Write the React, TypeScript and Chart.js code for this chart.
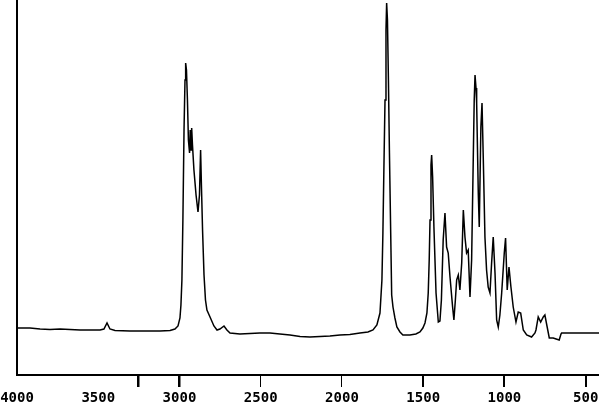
import React, { useEffect, useRef } from "react";
import { Chart, registerables } from "chart.js";

Chart.register(...registerables);

// Wavenumbers (cm-1)
const wavenumbers = [
  4000, 3920, 3858, 3797, 3735, 3674, 3612, 3551, 3489, 3465, 3446, 3428, 3397, 3305, 3212, 3120, 3058, 3028, 3009, 2997,
  2991, 2985, 2979, 2972, 2966, 2962, 2957, 2951, 2945, 2938, 2934, 2929, 2925, 2920, 2911, 2898, 2886, 2877, 2870, 2865,
  2858, 2849, 2840, 2831, 2812, 2788, 2769, 2751, 2726, 2708, 2689, 2628, 2566, 2505, 2443, 2382, 2320, 2258, 2197, 2135,
  2074, 2012, 1951, 1889, 1840, 1809, 1785, 1766, 1754, 1748, 1742, 1735, 1729, 1725, 1720, 1714, 1708, 1700, 1694, 1686,
  1674, 1662, 1643, 1625, 1582, 1545, 1520, 1502, 1489, 1477, 1469, 1463, 1458, 1452, 1448, 1442, 1434, 1421, 1407, 1397,
  1388, 1377, 1366, 1356, 1346, 1335, 1319, 1311, 1302, 1294, 1284, 1274, 1263, 1253, 1243, 1233, 1223, 1212, 1202, 1192,
  1186, 1181, 1175, 1171, 1161, 1155, 1145, 1138, 1130, 1120, 1110, 1100, 1089, 1079, 1069, 1058, 1048, 1038, 1028, 1017,
  1001, 993, 983, 972, 960, 946, 929, 915, 900, 884, 863, 833, 812, 806, 792, 777, 761, 751, 737, 724,
  700, 663, 652, 648, 418,
];

// Absorption signal (relative units, 0 = axis line, 100 = top of plot)
const absorption = [
  12.53, 12.53, 12.27, 12.13, 12.27, 12.13, 12.0, 12.0, 12.0, 12.27, 13.87, 12.27, 11.87, 11.73, 11.73, 11.73, 11.87, 12.27, 13.07, 15.2,
  18.67, 25.33, 41.33, 65.33, 78.67, 83.2, 81.33, 73.33, 62.67, 59.2, 65.33, 60.0, 65.87, 61.33, 54.67, 48.0, 43.47, 48.0, 60.0, 50.67,
  38.67, 26.67, 20.0, 17.33, 15.47, 13.07, 12.0, 12.27, 13.07, 12.0, 11.2, 10.93, 11.07, 11.2, 11.2, 10.93, 10.67, 10.27, 10.13, 10.27,
  10.4, 10.67, 10.8, 11.2, 11.47, 12.0, 13.33, 16.53, 25.33, 37.87, 54.67, 73.33, 92.0, 99.2, 94.67, 78.67, 60.0, 37.87, 21.33, 18.13,
  15.2, 12.8, 11.47, 10.67, 10.67, 10.93, 11.47, 12.53, 13.87, 16.53, 21.87, 30.67, 41.33, 56.0, 58.67, 52.8, 39.47, 21.87, 14.13, 14.4,
  20.0, 36.0, 43.2, 34.13, 32.53, 26.13, 18.13, 14.67, 20.0, 25.33, 26.67, 22.67, 29.87, 44.0, 36.8, 32.53, 33.33, 20.8, 30.67, 57.33,
  73.33, 80.0, 76.53, 72.53, 48.53, 39.47, 66.13, 72.53, 57.33, 36.8, 28.0, 23.47, 21.87, 29.87, 36.8, 27.2, 14.67, 12.8, 16.0, 21.87,
  32.53, 36.53, 22.67, 28.8, 23.47, 18.13, 14.13, 16.8, 16.53, 12.0, 10.67, 10.13, 11.2, 12.0, 15.47, 14.13, 15.47, 16.0, 12.8, 9.87,
  9.87, 9.33, 10.93, 11.2, 11.2,
];

// Axis tick values and labels
const tickValues = [4000, 3500, 3255, 3000, 2500, 2000, 1500, 1000, 500];
const tickLabels = ["4000", "3500", "", "3000", "2500", "2000", "1500", "1000", "500"];
const hiddenTickMarks = [4000, 3500];
const boldTickMarks = [3255, 3000];
const thinTickMarks = [2500, 2000];

export default function App() {
  const canvasRef = useRef<HTMLCanvasElement | null>(null);

  useEffect(() => {
    document.body.style.margin = "0";
    const canvas = canvasRef.current;
    if (!canvas) return;
    const points = wavenumbers.map((w, i) => ({ x: w, y: absorption[i] }));
    const chart = new Chart(canvas, {
      type: "line",
      data: {
        datasets: [
          {
            data: points,
            borderColor: "#000",
            borderWidth: 1.5,
            pointRadius: 0,
            fill: false,
            tension: 0,
          },
        ],
      },
      options: {
        responsive: false,
        animation: false,
        layout: { padding: 0 },
        plugins: { legend: { display: false }, tooltip: { enabled: false } },
        scales: {
          x: {
            type: "linear",
            reverse: true,
            min: 418,
            max: 4000,
            afterBuildTicks: (scale: any) => {
              scale.ticks = tickValues.map((v) => ({ value: v }));
            },
            afterFit: (scale: any) => {
              scale.height = 29;
              scale.paddingLeft = 0;
              scale.paddingRight = 0;
            },
            border: { display: true, color: "#000", width: 2 },
            grid: {
              drawOnChartArea: false,
              drawTicks: true,
              tickLength: 12,
              color: (ctx: any) =>
                ctx.tick && hiddenTickMarks.includes(ctx.tick.value) ? "rgba(0,0,0,0)" : "#000",
              lineWidth: (ctx: any) => {
                const v = ctx.tick ? ctx.tick.value : 0;
                if (boldTickMarks.includes(v)) return 2.5;
                if (thinTickMarks.includes(v)) return 1;
                return 2;
              },
            },
            ticks: {
              autoSkip: false,
              maxRotation: 0,
              minRotation: 0,
              padding: 3,
              color: "#000",
              font: { family: "DejaVu Sans Mono", size: 14, weight: "bold" },
              callback: (value: any) => {
                const idx = tickValues.indexOf(Number(value));
                return idx >= 0 ? tickLabels[idx] : "";
              },
            },
          },
          y: {
            min: 0,
            max: 100,
            afterFit: (scale: any) => {
              scale.width = 17;
              scale.paddingTop = 0;
              scale.paddingBottom = 0;
            },
            border: { display: true, color: "#000", width: 2 },
            grid: { drawOnChartArea: false, drawTicks: false },
            ticks: { display: false },
          },
        },
      },
    });
    return () => chart.destroy();
  }, []);

  return <canvas ref={canvasRef} width={599} height={404} style={{ display: "block" }} />;
}
